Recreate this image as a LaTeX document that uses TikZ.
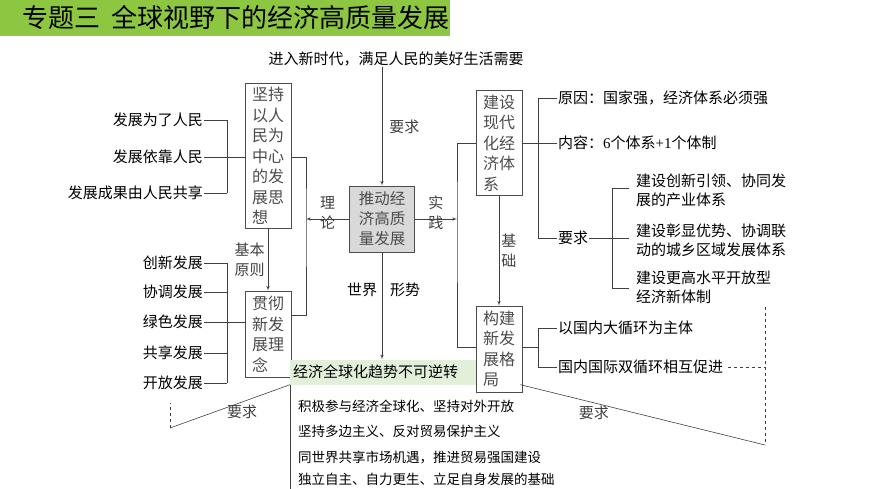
\documentclass[tikz,border=0pt]{standalone}
\usepackage{fontspec}
\setmainfont{Noto Sans CJK SC}
\newfontfamily\numfont{Liberation Serif}
\usetikzlibrary{arrows,positioning}
\definecolor{titlegreen}{HTML}{8DC641}
\definecolor{palegreen}{HTML}{E2EFD9}
\tikzstyle{line} = [draw, line width=0.6pt, black!75]
\tikzstyle{arrowline} = [draw, line width=0.6pt, black!75, -latex']
\tikzstyle{vbox} = [draw, line width=0.7pt, black!70, fill=white, inner sep=3pt, align=left, font=\fontsize{16}{20.5}\selectfont]
\tikzstyle{item} = [inner sep=1pt, font=\fontsize{15}{18}\selectfont]
\tikzstyle{lbl} = [inner sep=1pt, font=\fontsize{15}{20}\selectfont, align=center]
\begin{document}
\begin{tikzpicture}[x=1pt,y=-1pt]
	\useasboundingbox (0,0) rectangle (870,489);
	% ------------------- Title ------------------- %
	\fill[titlegreen] (0,0) rectangle (450,36);
	\node[anchor=west, inner sep=0pt, font=\fontsize{26}{28}\selectfont] (title) at (22,18) {专题三\ \ 全球视野下的经济高质量发展};
	% ------------------- Centre ------------------- %
	\node[item] (need) at (396,59) {进入新时代，满足人民的美好生活需要};
	\node[vbox, fill=black!15, minimum width=65pt, minimum height=66pt, font=\fontsize{15.5}{20}\selectfont] (core) at (382,219) {推动经\\济高质\\量发展};
	\draw[arrowline] (need.south -| core.north) -- (core.north) node[lbl, midway, right=6pt] (req1) {要求};
	% ------------------- Left boxes ------------------- %
	\node[vbox, minimum width=46pt, minimum height=145pt] (people) at (268,156) {坚持\\以人\\民为\\中心\\的发\\展思\\想};
	\node[vbox, minimum width=46pt, minimum height=86pt] (idea) at (268,334) {贯彻\\新发\\展理\\念};
	\draw[arrowline] (people.south) -- (idea.north) node[lbl, midway, left=2pt, align=left] (basic) {基本\\原则};
	\coordinate (lj) at (306,219);
	\draw[line] (people.east |- 0,157) -| (lj) |- (idea.east |- 0,315);
	\draw[arrowline] (core.west) -- (lj) node[lbl, midway, above=-12pt, text width=15pt] (theory) {理\\论};
	% people items
	\node[item, anchor=east] (p1) at (204,120) {发展为了人民};
	\node[item, anchor=east] (p2) at (204,157) {发展依靠人民};
	\node[item, anchor=east] (p3) at (204,193) {发展成果由人民共享};
	\foreach \n in {p1,p2,p3} \draw[line] (\n.east) -- ++(23,0);
	\draw[line] ([xshift=23]p1.east) -- ([xshift=23]p3.east);
	\draw[line] ([xshift=23]p2.east) -- (people.west |- p2);
	% idea items
	\foreach \t/\y [count=\i] in {创新发展/263,协调发展/292,绿色发展/322,共享发展/353,开放发展/383}
		\node[item, anchor=east] (d\i) at (204,\y) {\t};
	\foreach \i in {1,...,5} \draw[line] (d\i.east) -- ++(23,0);
	\draw[line] ([xshift=23]d1.east) -- ([xshift=23]d5.east);
	\draw[line] ([xshift=23]d3.east) -- (idea.west |- d3);
	% ------------------- World ------------------- %
	\node[anchor=west, fill=palegreen, text width=224pt, align=left, minimum height=25pt, inner sep=3pt, font=\fontsize{15}{18}\selectfont] (trend) at (290,372) {经济全球化趋势不可逆转};
	\draw[arrowline] (core.south) -- (core.south |- trend.north);
	\node[lbl] (world) at (362,290) {世界};
	\node[lbl] (situ) at (405,290) {形势};
	\foreach \t/\y [count=\i] in {积极参与经济全球化、坚持对外开放/406,坚持多边主义、反对贸易保护主义/431,同世界共享市场机遇，推进贸易强国建设/457,独立自主、自力更生、立足自身发展的基础/479}
		\node[anchor=west, inner sep=0pt, font=\fontsize{13.5}{15}\selectfont] (w\i) at (298,\y) {\t};
	\draw[line] (trend.south west) -- (290,489);
	\coordinate (lreq) at (170,428);
	\draw[line] (trend.south west) -- (lreq) node[lbl, pos=0.4, below=2pt] (req2) {要求};
	\draw[line, dashed] (lreq) -- (170,403);
	% ------------------- Right boxes ------------------- %
	\node[vbox, minimum width=46pt, minimum height=105pt] (modern) at (499,143) {建设\\现代\\化经\\济体\\系};
	\node[vbox, minimum width=46pt, minimum height=86pt] (pattern) at (499,349) {构建\\新发\\展格\\局};
	\draw[arrowline] (modern.south) -- (pattern.north) node[lbl, midway, right=1pt] (found) {基\\础};
	\coordinate (rj) at (457,219);
	\draw[arrowline] (core.east) -- (rj) node[lbl, midway, above=-12pt, text width=15pt] (practice) {实\\践};
	\draw[line] (modern.west |- 0,143) -| (rj) |- (pattern.west |- 0,347);
	% modern items
	\node[item, anchor=west] (m1) at (557,98) {原因：国家强，经济体系必须强};
	\node[item, anchor=west] (m2) at (557,143) {内容：{\numfont 6}个体系{\numfont +1}个体制};
	\node[item, anchor=west] (m3) at (557,238) {要求};
	\draw[line] (modern.east |- m2) -- (538,143);
	\draw[line] (538,98) -- (538,238);
	\foreach \n in {m1,m2,m3} \draw[line] (538,0 |- \n) -- (\n.west);
	\foreach \t/\y [count=\i] in {建设创新引领、协同发\\展的产业体系/190,建设彰显优势、协调联\\动的城乡区域发展体系/240,建设更高水平开放型\\经济新体制/287}
		\node[anchor=west, inner sep=0pt, align=left, font=\fontsize{15}{19}\selectfont] (r\i) at (636,\y) {\t};
	\draw[line] (m3.east) -- (612,238);
	\draw[line] (612,188) -- (612,288);
	\draw[line] (612,188) -- (629,188);
	\draw[line] (612,238) -- (629,238);
	\draw[line] (612,288) -- (629,288);
	% pattern items
	\node[item, anchor=west] (c1) at (557,328) {以国内大循环为主体};
	\node[item, anchor=west] (c2) at (557,367) {国内国际双循环相互促进};
	\draw[line] (pattern.east |- 0,347) -- (538,347);
	\draw[line] (538,328) -- (538,367);
	\foreach \n in {c1,c2} \draw[line] (538,0 |- \n) -- (\n.west);
	\coordinate (rreq) at (765,445);
	\draw[line, dashed] ([xshift=4pt]c2.east) -- (765,367);
	\draw[line, dashed] (765,307) -- (rreq);
	\draw[line] (trend.south east) -- (rreq) node[lbl, pos=0.3, below=2pt] (req3) {要求};
\end{tikzpicture}
\end{document}
